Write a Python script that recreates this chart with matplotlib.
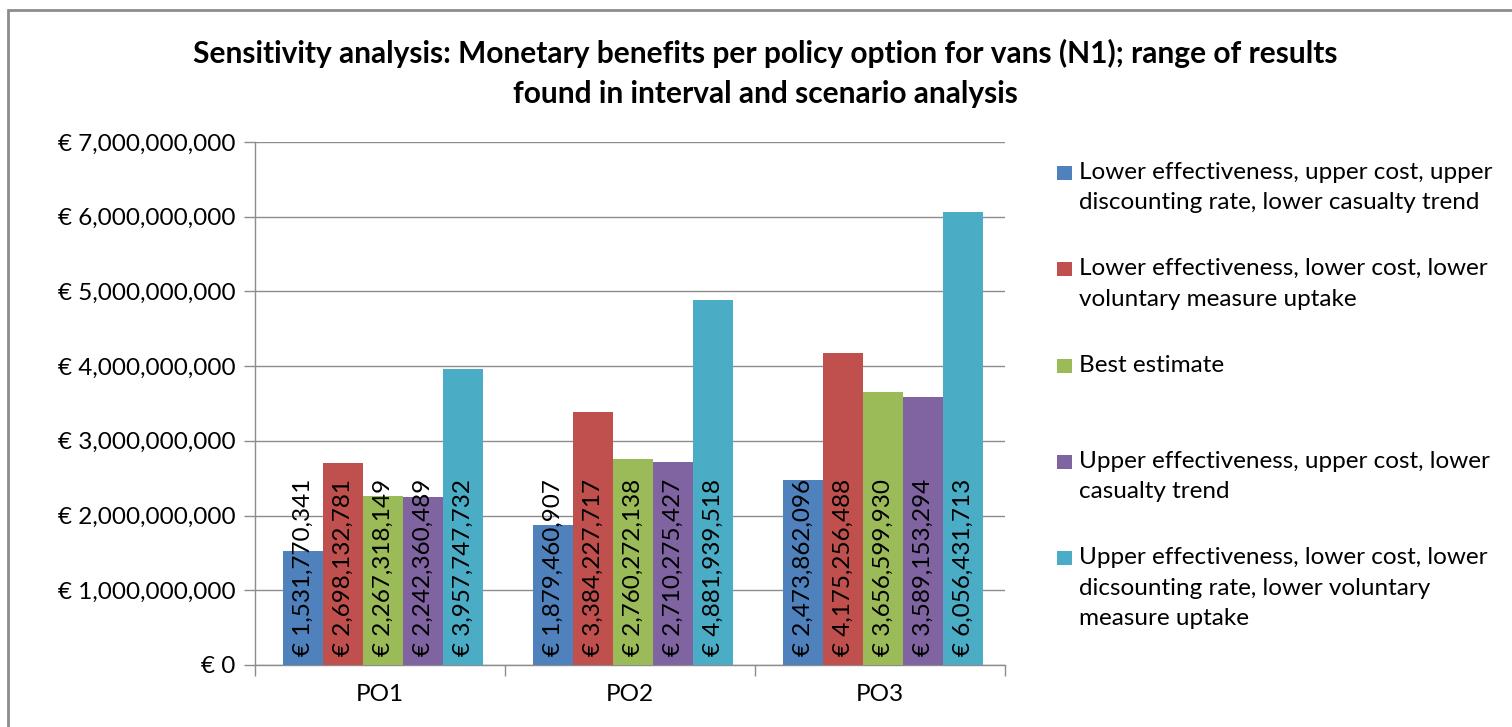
import matplotlib
matplotlib.use("Agg")
import matplotlib.pyplot as plt
from matplotlib.patches import Rectangle
import numpy as np

categories = ["PO1", "PO2", "PO3"]
series_names = [
    "Lower effectiveness, upper cost, upper\ndiscounting rate, lower casualty trend",
    "Lower effectiveness, lower cost, lower\nvoluntary measure uptake",
    "Best estimate",
    "Upper effectiveness, upper cost, lower\ncasualty trend",
    "Upper effectiveness, lower cost, lower\ndicsounting rate, lower voluntary\nmeasure uptake",
]
lower_eff_upper_cost = [1531770341, 1879460907, 2473862096]
lower_eff_lower_cost = [2698132781, 3384227717, 4175256488]
best_estimate = [2267318149, 2760272138, 3656599930]
upper_eff_upper_cost = [2242360489, 2710275427, 3589153294]
upper_eff_lower_cost = [3957747732, 4881939518, 6056431713]
series_values = [lower_eff_upper_cost, lower_eff_lower_cost, best_estimate,
                 upper_eff_upper_cost, upper_eff_lower_cost]
colors = ["#4F81BD", "#C0504D", "#9BBB59", "#8064A2", "#4BACC6"]

font = ["Lato", "DejaVu Sans"]
plt.rcParams["font.family"] = font
fs = 17.5

fig = plt.figure(figsize=(15.12, 7.27), dpi=100)
ax = fig.add_axes([0.1687, 0.0853, 0.4960, 0.7194])

x = np.arange(len(categories))
width = 0.16
for i, (vals, col) in enumerate(zip(series_values, colors)):
    pos = x + (i - 2) * width + 0.012
    ax.bar(pos, vals, width=width, color=col, edgecolor="none", zorder=3)
    for px, v in zip(pos, vals):
        ax.annotate(f"€ {v:,}", (px, 0), xytext=(0, 9), textcoords="offset pixels",
                    rotation=90, ha="center", va="bottom", fontsize=fs,
                    color="black", zorder=4)

ax.set_xlim(-0.5, 2.5)
ax.set_ylim(0, 7e9)
ax.set_yticks(np.arange(0, 7e9 + 1, 1e9))
ax.set_yticklabels(["€ 0"] + [f"€ {int(v):,}" for v in np.arange(1e9, 7e9 + 1, 1e9)],
                   fontsize=fs)
ax.yaxis.grid(True, color="#8c8c8c", linewidth=1.0, zorder=0)
ax.tick_params(axis="y", length=8, width=1, color="#8c8c8c", pad=6)

# category boundary ticks, labels centred on groups
ax.set_xticks([-0.5, 0.5, 1.5, 2.5])
ax.set_xticklabels([])
ax.set_xticks(x, minor=True)
ax.set_xticklabels(categories, minor=True, fontsize=fs)
ax.tick_params(axis="x", which="major", length=8, width=1, color="#8c8c8c")
ax.tick_params(axis="x", which="minor", length=0, pad=14)

for s in ["top", "right"]:
    ax.spines[s].set_visible(False)
for s in ["left", "bottom"]:
    ax.spines[s].set_color("#8c8c8c")
    ax.spines[s].set_linewidth(1.0)

fig.text(0.506, 0.899, "Sensitivity analysis: Monetary benefits per policy option for vans (N1); range of results\nfound in interval and scenario analysis",
         ha="center", va="center", fontsize=21.5, fontweight="bold", linespacing=1.5)

# legend drawn entry by entry, evenly spaced from the top line
W, H = 1512, 727
leg_top = 162
for i, (name, col) in enumerate(zip(series_names, colors)):
    ytop = leg_top + i * 96.3
    fig.add_artist(Rectangle((1057 / W, 1 - (ytop + 18) / H), 15 / W, 14 / H,
                             transform=fig.transFigure, facecolor=col, edgecolor="none"))
    fig.text(1079 / W, 1 - ytop / H, name, ha="left", va="top", fontsize=fs,
             linespacing=1.55)

# chart frame
fig.add_artist(Rectangle((8 / W, -0.1), 1.2, 1 - 10 / H + 0.1, transform=fig.transFigure,
                         facecolor="none", edgecolor="#8c8c8c", linewidth=2))

fig.savefig("out.png", dpi=100)
